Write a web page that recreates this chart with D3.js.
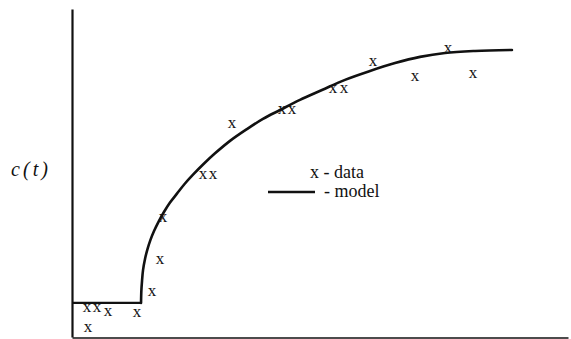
<!DOCTYPE html>
<html>
<head>
	<meta charset="utf-8">
	<script src="https://cdn.jsdelivr.net/npm/d3@7"></script>
	<style>
		body { margin: 0; background: #fff; }
	</style>
</head>
<body>
	<script>

		// model: flat baseline up to t0, then the rise
		var baseLevel = 0.104;
		var t0 = 6.96;
		var modelT = [6.96, 6.99, 7.06, 7.16, 7.36, 7.61, 7.91, 8.27, 8.72, 9.27, 9.88, 10.58, 11.39,
		              12.20, 13.21, 14.42, 15.93, 17.64, 19.25, 20.97, 22.98, 25.20, 27.52, 30.04,
		              32.56, 35.08, 37.60, 40.63, 44.35];
		var modelC = [0.104, 0.140, 0.171, 0.204, 0.238, 0.268, 0.296, 0.323, 0.351, 0.381, 0.410, 0.437, 0.468,
		              0.495, 0.526, 0.560, 0.598, 0.634, 0.665, 0.692, 0.723, 0.753, 0.784, 0.811,
		              0.835, 0.854, 0.866, 0.872, 0.875];

		// measured data (x markers)
		var dataT = [1.51, 2.52, 3.63, 6.55, 1.61, 8.06, 8.87, 9.17, 13.21, 14.21, 16.13,
		             21.17, 22.18, 26.31, 27.42, 30.34, 34.58, 37.90, 40.42];
		var dataC = [0.088, 0.088, 0.076, 0.073, 0.028, 0.137, 0.235, 0.363, 0.494, 0.494, 0.649,
		             0.692, 0.692, 0.756, 0.756, 0.838, 0.793, 0.878, 0.802];

		var width = 571;
		var height = 339;
		var serif = "'Liberation Serif'";

		var svg = d3.select("body").append("svg")
			.attr("width", width)
			.attr("height", height);

		var x = d3.scaleLinear().domain([0, 50]).range([72, 568]);
		var y = d3.scaleLinear().domain([0, 1]).range([337, 9]);

		// axes, no ticks
		svg.append("g")
			.attr("transform", "translate(0,337.5)")
			.call(d3.axisBottom(x).tickValues([]).tickSizeOuter(0))
			.select(".domain").attr("stroke", "#111").attr("stroke-width", 1.6);

		svg.append("g")
			.attr("transform", "translate(72,0)")
			.call(d3.axisLeft(y).tickValues([]).tickSizeOuter(0))
			.select(".domain").attr("stroke", "#111").attr("stroke-width", 2.2);

		// model curve
		var flat = [[0, baseLevel], [t0, baseLevel]];
		var rise = modelT.map(function(t, i) { return [t, modelC[i]]; });
		var line = d3.line().x(function(d) { return x(d[0]); }).y(function(d) { return y(d[1]); });

		svg.append("path")
			.attr("d", line(flat))
			.attr("fill", "none")
			.attr("stroke", "#111")
			.attr("stroke-width", 2.2);

		svg.append("path")
			.attr("d", line.curve(d3.curveCatmullRom.alpha(0.5))(rise))
			.attr("fill", "none")
			.attr("stroke", "#111")
			.attr("stroke-width", 2.6)
			.attr("stroke-linecap", "round");

		// data markers drawn as letter x
		svg.selectAll("text.pt")
			.data(dataT)
			.enter().append("text")
			.attr("class", "pt")
			.attr("x", function(d) { return x(d); })
			.attr("y", function(d, i) { return y(dataC[i]) + 4; })
			.attr("text-anchor", "middle")
			.style("font-family", serif)
			.style("font-size", "17px")
			.attr("fill", "#111")
			.text("x");

		// y label
		svg.append("text")
			.attr("x", 31)
			.attr("y", 176)
			.attr("text-anchor", "middle")
			.style("font-family", serif)
			.style("font-size", "20px")
			.style("font-style", "italic")
			.style("letter-spacing", "3px")
			.attr("fill", "#111")
			.text("c(t)");

		// legend
		svg.append("text")
			.attr("x", 310)
			.attr("y", 178)
			.style("font-family", serif)
			.style("font-size", "18px")
			.attr("fill", "#111")
			.text("x - data");

		svg.append("line")
			.attr("x1", 268).attr("x2", 315)
			.attr("y1", 192).attr("y2", 192)
			.attr("stroke", "#111")
			.attr("stroke-width", 2.6);

		svg.append("text")
			.attr("x", 324)
			.attr("y", 197)
			.style("font-family", serif)
			.style("font-size", "18px")
			.attr("fill", "#111")
			.text("- model");

	</script>
</body>
</html>
